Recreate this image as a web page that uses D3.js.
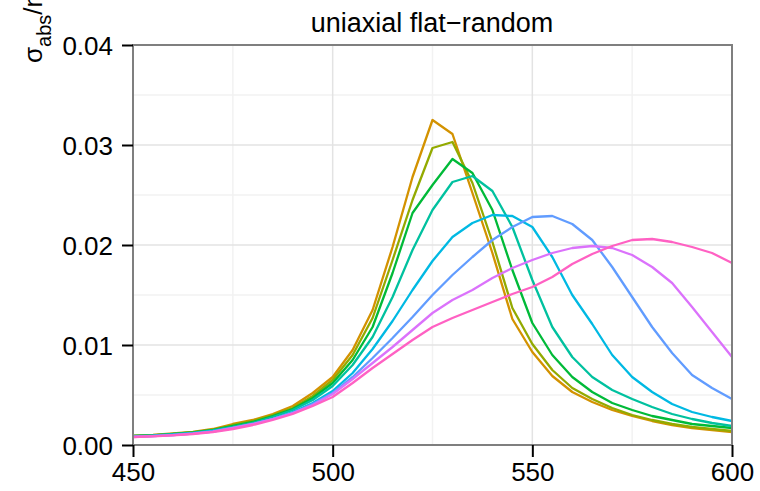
<!DOCTYPE html>
<html><head><meta charset="utf-8">
<script src="https://cdn.jsdelivr.net/npm/d3@7"></script>
<style>
body{margin:0;background:#fff;}
svg{display:block;font-family:"Liberation Sans",Arial,Helvetica,sans-serif;}
</style></head>
<body><svg id="chart" width="760" height="491"></svg>
<script>
const wavelengths = d3.range(450, 601, 5);
const xTicks = [450, 500, 550, 600];
const yTicks = [0, 0.01, 0.02, 0.03, 0.04];
const seriesColors = ["#D39200", "#93AA00", "#00BA38", "#00C19F", "#00B9E3", "#619CFF", "#DB72FB", "#FF61C3"];
const s1 = [.0009,.0010,.00115,.0013,.0016,.0021,.0025,.0031,.0039,.0052,.0068,.0095,.0135,.0198,.0268,.0325,.0311,.0252,.0192,.0126,.0093,.0069,.0053,.0043,.0035,.0029,.0024,.0020,.0017,.0015,.0013];
const s2 = [.0009,.00098,.0011,.00128,.0015,.0020,.0024,.0030,.0037,.0049,.0065,.0090,.0127,.0185,.0245,.0297,.0303,.0262,.0203,.0137,.0101,.0075,.0057,.0046,.0037,.0030,.0025,.0021,.0018,.0016,.0014];
const s3 = [.0009,.00097,.0011,.00125,.0015,.0019,.0023,.0029,.0036,.0047,.0062,.0085,.0118,.0172,.0232,.0260,.0286,.0272,.0235,.0175,.0122,.0090,.0068,.0053,.0042,.0035,.0029,.0025,.0021,.0019,.0017];
const s4 = [.00088,.00095,.00108,.00122,.00145,.0018,.0022,.0028,.0035,.0045,.0059,.0080,.0108,.0148,.0195,.0235,.0263,.0269,.0254,.0218,.0165,.0118,.0088,.0068,.0055,.0046,.0038,.0031,.0026,.0022,.0019];
const s5 = [.00085,.00092,.00104,.00118,.0014,.0017,.0021,.0026,.0033,.0042,.0054,.0072,.0096,.0124,.0155,.0184,.0208,.0222,.0230,.0229,.0218,.0188,.0150,.0121,.0090,.0068,.0053,.0041,.0033,.0028,.0024];
const s6 = [.00083,.0009,.0010,.00115,.00135,.0017,.0021,.0026,.0032,.0041,.0052,.0068,.0087,.0107,.0128,.0150,.0170,.0188,.0205,.0218,.0228,.0229,.0221,.0205,.0178,.0148,.0118,.0092,.0070,.0057,.0046];
const s7 = [.0008,.00088,.00098,.00113,.00133,.0017,.0021,.0026,.0032,.0040,.0051,.0066,.0082,.0098,.0115,.0132,.0145,.0155,.0167,.0177,.0185,.0192,.0197,.0199,.0197,.0190,.0178,.0162,.0138,.0113,.0088];
const s8 = [.0008,.00087,.00097,.0011,.0013,.0016,.0020,.0025,.0031,.0039,.0048,.0062,.0077,.0091,.0105,.0118,.0127,.0135,.0143,.0151,.0158,.0168,.0181,.0191,.0199,.0205,.0206,.0203,.0198,.0192,.0182];
const allSeries = [s1, s2, s3, s4, s5, s6, s7, s8];
const titleText = "uniaxial flat\u2212random";

const svg = d3.select("#chart");
const L = 133, R = 732, T = 45, B = 445;
const x = d3.scaleLinear().domain([450, 600]).range([L, R]);
const y = d3.scaleLinear().domain([0, 0.04]).range([B, T]);

// minor grid
const xMinor = [475, 525, 575], yMinor = [0.005, 0.015, 0.025, 0.035];
svg.append("g").selectAll("line").data(xMinor).join("line")
  .attr("x1", d => x(d)).attr("x2", d => x(d)).attr("y1", T).attr("y2", B)
  .attr("stroke", "#f2f2f2").attr("stroke-width", 1.5);
svg.append("g").selectAll("line").data(yMinor).join("line")
  .attr("y1", d => y(d)).attr("y2", d => y(d)).attr("x1", L).attr("x2", R)
  .attr("stroke", "#f2f2f2").attr("stroke-width", 1.5);
// major grid
svg.append("g").selectAll("line").data(xTicks.slice(1, -1)).join("line")
  .attr("x1", d => x(d)).attr("x2", d => x(d)).attr("y1", T).attr("y2", B)
  .attr("stroke", "#e3e3e3").attr("stroke-width", 1.5);
svg.append("g").selectAll("line").data(yTicks.slice(1, -1)).join("line")
  .attr("y1", d => y(d)).attr("y2", d => y(d)).attr("x1", L).attr("x2", R)
  .attr("stroke", "#e3e3e3").attr("stroke-width", 1.5);

// lines
const line = d3.line().x((d, i) => x(wavelengths[i])).y(d => y(d));
svg.append("g").selectAll("path").data(allSeries).join("path")
  .attr("d", line).attr("fill", "none")
  .attr("stroke", (d, i) => seriesColors[i]).attr("stroke-width", 2.3)
  .attr("stroke-linejoin", "round");

// panel border
svg.append("rect").attr("x", L).attr("y", T).attr("width", R - L).attr("height", B - T)
  .attr("fill", "none").attr("stroke", "#7f7f7f").attr("stroke-width", 2);

// axes
const xAxis = svg.append("g").attr("transform", `translate(0,${B})`)
  .call(d3.axisBottom(x).tickValues(xTicks).tickSize(12).tickPadding(6).tickFormat(d3.format("d")));
const yAxis = svg.append("g").attr("transform", `translate(${L},0)`)
  .call(d3.axisLeft(y).tickValues(yTicks).tickSize(11).tickPadding(9).tickFormat(d3.format(".2f")));
[xAxis, yAxis].forEach(a => {
  a.select(".domain").remove();
  a.selectAll(".tick line").attr("stroke", "#000").attr("stroke-width", 2);
  a.selectAll(".tick text").attr("fill", "#000").attr("font-size", 26)
    .attr("font-family", "'Liberation Sans',Arial,sans-serif");
});
yAxis.selectAll(".tick text").attr("dy", "0.36em");

// title
svg.append("text").attr("x", 432).attr("y", 32).attr("text-anchor", "middle")
  .attr("font-size", 27).attr("fill", "#000").text(titleText);

// y label
const yl = svg.append("text").attr("transform", "translate(42,63) rotate(-90)")
  .attr("font-size", 26).attr("fill", "#000");
yl.append("tspan").text("\u03c3");
yl.append("tspan").attr("font-size", 20).attr("dy", 9).text("abs");
yl.append("tspan").attr("dy", -9).text("/nm\u00b2");
</script></body></html>
